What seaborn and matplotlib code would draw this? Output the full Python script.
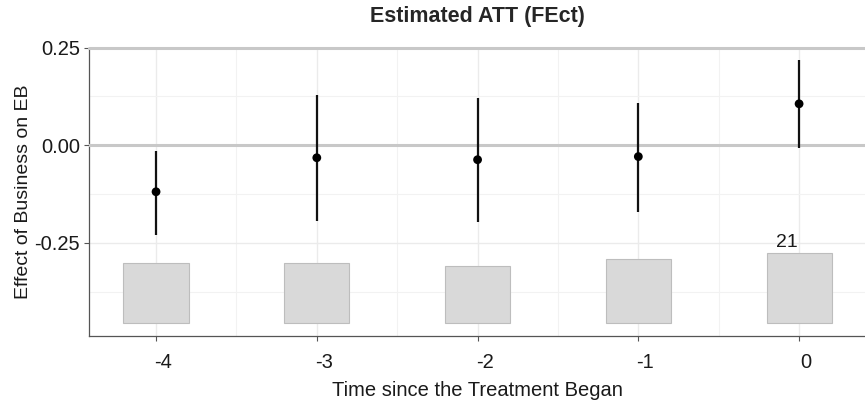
import numpy as np
import pandas as pd
import matplotlib
matplotlib.use("Agg")
import matplotlib.pyplot as plt
import matplotlib.transforms as mtransforms
import seaborn as sns

# periods relative to treatment, ATT estimates and 95% CI
periods = [-4, -3, -2, -1, 0]
att = [-0.119, -0.032, -0.037, -0.029, 0.106]
ci_low = [-0.230, -0.194, -0.197, -0.171, -0.006]
ci_high = [-0.014, 0.129, 0.122, 0.109, 0.219]
# number of treated obs per period (bars at the bottom)
counts = [18, 18, 17, 19, 21]

df = pd.DataFrame({'period': periods, 'att': att,
                   'lo': ci_low, 'hi': ci_high, 'count': counts})

sns.set_theme(style="whitegrid")
plt.rcParams['font.family'] = ['Liberation Sans', 'DejaVu Sans']

fig = plt.figure(figsize=(8.65, 4.04), dpi=100)
ax = fig.add_axes([0.1029, 0.1683, 0.8971, 0.7141])

# count bars, scaled into the bottom band of the panel
bar_bottom = -0.455
bar_span = 0.18
heights = df['count'] / df['count'].max() * bar_span
ax.bar(df['period'], heights, width=0.405, bottom=bar_bottom,
       color='#d9d9d9', edgecolor='#bdbdbd', linewidth=0.8, zorder=2)
imax = df['count'].idxmax()
ax.text(df['period'][imax] - 0.075, bar_bottom + heights[imax] + 0.004,
        str(df['count'][imax]), ha='center', va='bottom', fontsize=14,
        color='#1a1a1a', zorder=5)

# reference lines
ax.axhline(0, color='#c8c8c8', lw=2.2, zorder=3)
ax.axhline(0.25, color='#c8c8c8', lw=2.2, zorder=3, clip_on=False)

# CIs and point estimates
ax.vlines(df['period'], df['lo'], df['hi'], color='#111111', lw=1.6, zorder=4)
sns.scatterplot(data=df, x='period', y='att', ax=ax, color='black', s=40,
                edgecolor='none', zorder=5, legend=False)

ax.set_xlim(-4.417, 0.41)
ax.set_ylim(-0.488, 0.25)
ax.set_xticks(periods)
ax.set_xticklabels([str(p) for p in periods])
ax.set_yticks([0.25, 0.0, -0.25])
ax.set_yticklabels(['0.25', '0.00', '-0.25'])
ax.set_xticks(np.arange(-3.5, 0.5, 1.0), minor=True)
ax.set_yticks([0.125, -0.125, -0.375], minor=True)

ax.grid(which='major', color='#ebebeb', lw=1.0)
ax.grid(which='minor', color='#f2f2f2', lw=0.8)
ax.set_axisbelow(True)

for s in ['top', 'right']:
    ax.spines[s].set_visible(False)
for s in ['left', 'bottom']:
    ax.spines[s].set_visible(True)
    ax.spines[s].set_color('#555555')
    ax.spines[s].set_linewidth(0.9)

ax.tick_params(axis='both', which='major', direction='out', length=3.5,
               width=0.8, color='#555555', labelsize=14.5, labelcolor='#1a1a1a',
               left=True, bottom=True, pad=3)
ax.tick_params(axis='x', which='major', pad=9)
ax.tick_params(axis='both', which='minor', length=0)

# x tick labels sit a little to the right of their ticks in the original
offset = mtransforms.ScaledTranslation(7 / 100, 0, fig.dpi_scale_trans)
for lab in ax.get_xticklabels():
    lab.set_transform(lab.get_transform() + offset)

ax.set_xlabel('Time since the Treatment Began', fontsize=14.5, color='#1a1a1a',
              labelpad=6)
ax.set_ylabel('Effect of Business on EB', fontsize=14, color='#1a1a1a',
              labelpad=2)
fig.suptitle('Estimated ATT (FEct)', fontsize=15.5, fontweight='bold',
             x=0.5515, y=0.985)

fig.savefig('out.png', dpi=100)
